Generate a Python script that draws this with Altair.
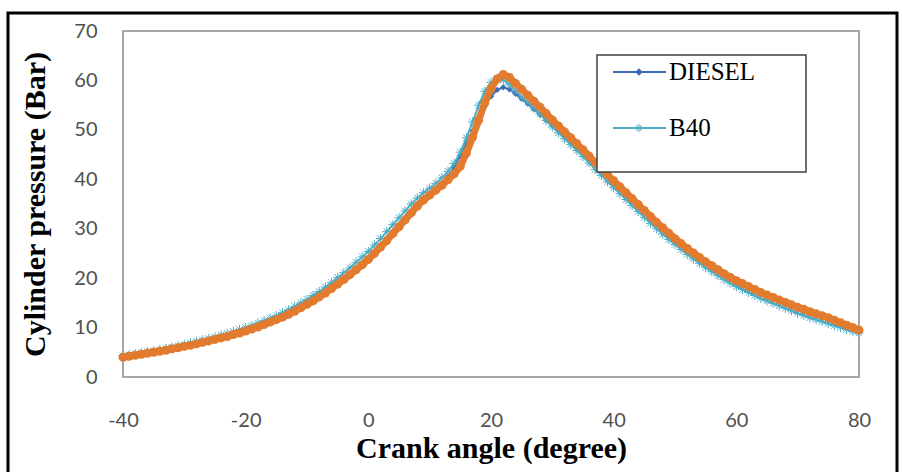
import altair as alt
import pandas as pd

# Crank angle (degree), one reading per degree
crank = list(range(-40, 81))

diesel = [
    4.1, 4.3, 4.4, 4.6, 4.8, 5.0, 5.2, 5.4, 5.6, 5.9,
    6.1, 6.4, 6.7, 7.0, 7.3, 7.6, 7.9, 8.2, 8.5, 8.9,
    9.3, 9.7, 10.1, 10.6, 11.1, 11.6, 12.1, 12.7, 13.3, 14.0,
    14.7, 15.5, 16.3, 17.1, 18.0, 18.9, 19.8, 20.8, 21.8, 22.9,
    24.0, 25.2, 26.5, 27.8, 29.2, 30.6, 32.0, 33.4, 34.8, 36.0,
    37.0, 38.0, 39.2, 40.6, 42.4, 44.8, 47.2, 49.8, 52.4, 54.8,
    56.8, 58.1, 58.6, 58.2, 57.3, 56.3,
    55.3, 54.2, 53.1, 52.0, 50.9, 49.8, 48.7, 47.6, 46.5, 45.4,
    44.2, 43.0, 41.8, 40.5, 39.2, 38.0, 36.8, 35.6, 34.4, 33.2,
    32.0, 30.9, 29.8, 28.7, 27.6, 26.6, 25.6, 24.7, 23.8, 22.9,
    22.1, 21.3, 20.5, 19.8, 19.1, 18.5, 17.9, 17.3, 16.7, 16.2,
    15.7, 15.2, 14.7, 14.2, 13.7, 13.3, 12.8, 12.4, 12.0, 11.6,
    11.2, 10.8, 10.4, 10.0, 9.6,
]

b40 = [
    4.3, 4.5, 4.7, 4.9, 5.1, 5.3, 5.5, 5.8, 6.0, 6.3,
    6.6, 6.9, 7.2, 7.5, 7.8, 8.1, 8.5, 8.8, 9.2, 9.6,
    10.0, 10.4, 10.9, 11.4, 11.9, 12.4, 13.0, 13.6, 14.3, 15.0,
    15.7, 16.5, 17.3, 18.2, 19.1, 20.1, 21.1, 22.1, 23.2, 24.3,
    25.4, 26.7, 28.0, 29.4, 30.8, 32.2, 33.6, 35.0, 36.2, 37.3,
    38.2, 39.2, 40.3, 41.6, 43.2, 45.5, 48.4, 51.6, 55.0, 57.8,
    59.6, 60.4, 60.1, 59.2, 57.9, 56.6,
    55.6, 54.4, 53.2, 51.9, 50.6, 49.4, 48.2, 47.0, 45.8, 44.6,
    43.3, 42.0, 40.8, 39.5, 38.3, 37.1, 35.9, 34.7, 33.5, 32.3,
    31.1, 30.0, 28.9, 27.8, 26.8, 25.8, 24.8, 23.9, 23.0, 22.1,
    21.3, 20.5, 19.7, 19.0, 18.3, 17.7, 17.1, 16.5, 15.9, 15.4,
    14.9, 14.4, 13.9, 13.4, 12.9, 12.5, 12.0, 11.6, 11.2, 10.8,
    10.4, 10.0, 9.6, 9.2, 8.9,
]

b20 = [
    4.0, 4.2, 4.4, 4.6, 4.8, 5.0, 5.2, 5.4, 5.7, 5.9,
    6.2, 6.4, 6.7, 7.0, 7.3, 7.6, 7.9, 8.2, 8.6, 8.9,
    9.3, 9.7, 10.1, 10.6, 11.1, 11.6, 12.1, 12.7, 13.3, 14.0,
    14.7, 15.4, 16.2, 17.0, 17.9, 18.8, 19.7, 20.7, 21.7, 22.7,
    23.8, 25.0, 26.3, 27.6, 29.0, 30.4, 31.8, 33.2, 34.6, 35.8,
    36.8, 37.8, 38.8, 39.9, 41.1, 42.6, 45.3, 48.5, 52.0, 55.5,
    58.4, 60.3, 61.2, 60.6, 59.4, 58.2,
    57.0, 55.8, 54.6, 53.3, 52.0, 50.8, 49.6, 48.4, 47.2, 46.0,
    44.7, 43.4, 42.2, 40.9, 39.7, 38.5, 37.3, 36.1, 34.9, 33.7,
    32.5, 31.3, 30.2, 29.1, 28.0, 27.0, 26.0, 25.1, 24.2, 23.3,
    22.5, 21.7, 20.9, 20.2, 19.5, 18.9, 18.3, 17.7, 17.1, 16.6,
    16.1, 15.6, 15.1, 14.6, 14.1, 13.7, 13.2, 12.8, 12.4, 12.0,
    11.5, 11.0, 10.5, 10.0, 9.5,
]

x_ticks = [-40, -20, 0, 20, 40, 60, 80]
y_ticks = [0, 10, 20, 30, 40, 50, 60, 70]
legend_names = ["DIESEL", "B40"]

BLUE = "#3A6DB5"
CYAN = "#4BACC6"
ORANGE = "#E27B2E"
STAR = "M-1,0L1,0M0,-1L0,1M-0.7,-0.7L0.7,0.7M-0.7,0.7L0.7,-0.7"

W, H = 736, 346

x_enc = alt.X(
    "crank:Q",
    scale=alt.Scale(domain=[-40, 80], nice=False, zero=False),
    axis=alt.Axis(
        values=x_ticks, title="Crank  angle  (degree)", grid=False, domain=False,
        ticks=False, tickSize=0, labelPadding=33, labelFont="Lato", labelFontSize=20,
        labelFlush=False, labelExpr="'' + datum.value",
        labelColor="#505050", titleFont="Liberation Serif", titleFontSize=30,
        titleFontWeight="bold", titleColor="black", titlePadding=3,
    ),
)
y_enc = alt.Y(
    "pressure:Q",
    scale=alt.Scale(domain=[0, 70], nice=False),
    axis=alt.Axis(
        values=y_ticks, title="Cylinder pressure (Bar)", grid=False, domain=False,
        ticks=False, tickSize=0, labelPadding=26, labelFont="Lato", labelFontSize=20,
        labelFlush=False,
        labelColor="#505050", titleFont="Liberation Serif", titleFontSize=30,
        titleFontWeight="bold", titleColor="black", titlePadding=23,
    ),
)


def series_layers(values, color, line_width, point_kwargs):
    d = pd.DataFrame({"crank": crank, "pressure": values})
    base = alt.Chart(d).encode(x=x_enc, y=y_enc)
    line = base.mark_line(color=color, strokeWidth=line_width)
    pts = base.mark_point(**point_kwargs)
    return [line, pts]


layers = []
layers += series_layers(diesel, BLUE, 2, dict(shape="diamond", filled=True, color=BLUE, size=40, opacity=1))
layers += series_layers(b40, CYAN, 2, dict(shape=STAR, filled=False, color=CYAN, size=85, strokeWidth=1, opacity=1))
layers += series_layers(b20, ORANGE, 7, dict(shape="circle", filled=True, color=ORANGE, size=80, opacity=1))

one = alt.Data(values=[{}])

# outer black frame
frame = alt.Chart(one).mark_rect(filled=False, stroke="black", strokeWidth=3, clip=False).encode(
    x=alt.value(-115), x2=alt.value(774), y=alt.value(-18), y2=alt.value(460)
)

# legend box
leg_box = alt.Chart(one).mark_rect(fill="white", stroke="#404040", strokeWidth=1.5).encode(
    x=alt.value(474), x2=alt.value(683), y=alt.value(24), y2=alt.value(141)
)
leg_layers = [leg_box]
for name, color, ly, kind in [(legend_names[0], BLUE, 41, "d"), (legend_names[1], CYAN, 97, "s")]:
    leg_layers.append(alt.Chart(one).mark_rule(color=color, strokeWidth=2).encode(
        x=alt.value(490), x2=alt.value(543), y=alt.value(ly)))
    if kind == "d":
        leg_layers.append(alt.Chart(one).mark_point(shape="diamond", filled=True, color=color, size=60, opacity=1).encode(
            x=alt.value(516), y=alt.value(ly)))
    else:
        leg_layers.append(alt.Chart(one).mark_point(shape=STAR, filled=False, color=color, size=70, strokeWidth=1, opacity=1).encode(
            x=alt.value(516), y=alt.value(ly)))
    leg_layers.append(alt.Chart(one).mark_text(text=name, align="left", baseline="middle", font="Liberation Serif",
                                               fontSize=25, color="black").encode(
        x=alt.value(546), y=alt.value(ly)))

chart = alt.layer(frame, *layers, *leg_layers).properties(
    width=W, height=H,
    padding={"left": 123, "top": 31, "right": 43, "bottom": 95},
    autosize=alt.AutoSizeParams(type="none"),
).configure_view(stroke="#A6A6A6", strokeWidth=2)

chart.save("out.html", embed_options={"renderer": "svg", "actions": False})
